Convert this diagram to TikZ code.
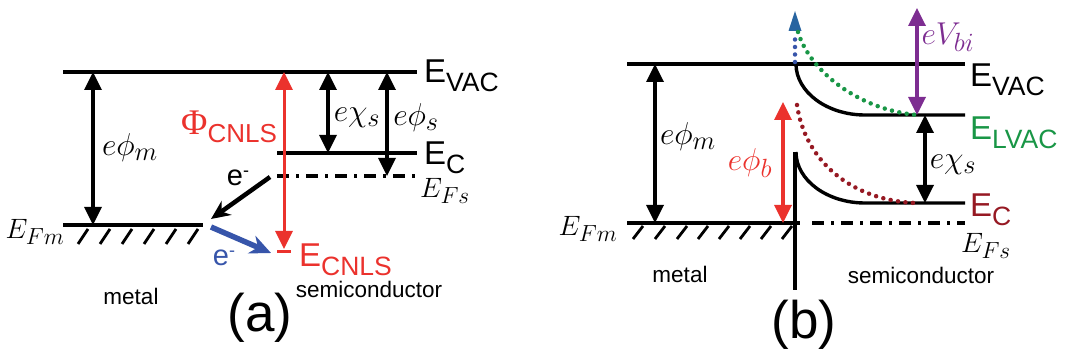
\documentclass[tikz,border=0pt]{standalone}
\usepackage{fontspec}
\setmainfont{Liberation Sans}
\newfontfamily\serifPhi{Liberation Serif}
\usetikzlibrary{arrows.meta}
\definecolor{myred}{RGB}{235,50,45}
\definecolor{myblue}{RGB}{55,85,170}
\definecolor{mygreen}{RGB}{25,150,70}
\definecolor{mydarkred}{RGB}{150,25,35}
\definecolor{mypurple}{RGB}{125,45,145}
\definecolor{myteal}{RGB}{40,100,160}
\newcommand\subtx[1]{{\fontsize{26.5}{26.5}\selectfont\raisebox{-9pt}{#1}}}
\newcommand\elminus{{\fontsize{18}{18}\selectfont\raisebox{9pt}{-}}}
\tikzset{
  lvl/.style={line width=3.4pt},
  dimarr/.style={line width=3.4pt,{Triangle[length=18pt,width=17pt]}-{Triangle[length=18pt,width=17pt]}},
  biglbl/.style={inner sep=0pt,anchor=base west,font=\fontsize{33}{33}\selectfont},
  mathlbl/.style={inner sep=0pt,font=\fontsize{24.88}{25}\selectfont,scale=1.125},
  mathbig/.style={inner sep=0pt,font=\fontsize{24.88}{25}\selectfont,scale=1.27},
  txt/.style={inner sep=0pt,font=\fontsize{22.5}{22.5}\selectfont},
  caplbl/.style={inner sep=0pt,font=\fontsize{53}{53}\selectfont},
  elbl/.style={inner sep=0pt,font=\fontsize{29}{29}\selectfont},
  hatchln/.style={line width=2.8pt},
  dashdot/.style={line width=3.4pt,dash pattern=on 12pt off 7pt on 3pt off 7pt},
  dotln/.style={line width=4.5pt,dash pattern=on 0pt off 7.5pt,line cap=round}
}
\begin{document}
\begin{tikzpicture}[x=1pt,y=-1pt]
\useasboundingbox (0,0) rectangle (1066,358);
% ---------------- panel (a) ----------------
\coordinate (aVacL) at (63,72);   \coordinate (aVacR) at (417,72);
\coordinate (aFmL) at (63,225);   \coordinate (aFmR) at (203,225);
\coordinate (aCL) at (277,153);   \coordinate (aCR) at (417,153);
\coordinate (aFsL) at (277,176);  \coordinate (aFsR) at (417,176);
\draw[lvl] (aVacL) -- (aVacR);
\draw[lvl] (aFmL) -- (aFmR);
\draw[lvl] (aCL) -- (aCR);
\draw[dashdot] (aFsL) -- (aFsR);
\foreach \x in {78,100,122,144,166,188} \draw[hatchln] (\x,244) -- (\x+10,229);
\coordinate (amT) at (93,72); \coordinate (amB) at (93,225);
\draw[dimarr] (amT) -- (amB);
\coordinate (arT) at (284,72); \coordinate (arB) at (284,249);
\draw[dimarr,myred,line width=3pt] (arT) -- (arB);
\coordinate (arBarL) at (277,252); \coordinate (arBarR) at (291,252);
\draw[line width=3pt,myred] (arBarL) -- (arBarR);
\coordinate (axT) at (328,72); \coordinate (axB) at (328,153);
\draw[dimarr] (axT) -- (axB);
\coordinate (asT) at (387,72); \coordinate (asB) at (387,176);
\draw[dimarr] (asT) -- (asB);
\coordinate (e1s) at (270,177); \coordinate (e1e) at (211,219);
\draw[line width=4.5pt,-{Stealth[length=19pt,width=17pt]}] (e1s) -- (e1e);
\coordinate (e2s) at (211,227); \coordinate (e2e) at (271,253);
\draw[myblue,line width=5.5pt,-{Stealth[length=21pt,width=19pt]}] (e2s) -- (e2e);
% labels (a)
\node[biglbl] (aEvac) at (424,83) {E\subtx{VAC}};
\node[biglbl] (aEc) at (424,165) {E\subtx{C}};
\node[mathlbl] (aEfs) at (445,191) {$E_{Fs}$};
\node[mathlbl] (aEfm) at (35,232) {$E_{Fm}$};
\node[mathbig] (aPhim) at (130,148) {$e\phi_m$};
\node[mathbig] (aChi) at (357,118) {$e\chi_s$};
\node[mathbig] (aPhis) at (416,118) {$e\phi_s$};
\node[biglbl,myred] (aPhiC) at (181,135) {{\serifPhi\fontsize{36}{36}\selectfont Φ}{\fontsize{26}{26}\selectfont\raisebox{-8pt}{CNLS}}};
\node[biglbl,myred] (aEcnls) at (299,267) {E\subtx{CNLS}};
\node[elbl] (ae1) at (238,178) {e\elminus};
\node[elbl,myblue] (ae2) at (224,258) {e\elminus};
\node[txt] (ametal) at (131,296) {metal};
\node[txt] (asemi) at (369,289) {semiconductor};
\node[caplbl] (acap) at (260,318) {(a)};
% ---------------- panel (b) ----------------
\coordinate (bVacL) at (627,64);  \coordinate (bVacR) at (965,64);
\coordinate (bFmL) at (627,223);  \coordinate (bFmR) at (800,223);
\coordinate (bJT) at (795,152);   \coordinate (bJB) at (795,290);
\coordinate (bFsL) at (812,223);  \coordinate (bFsR) at (965,223);
\draw[lvl] (bVacL) -- (bVacR);
\draw[lvl] (bFmL) -- (bFmR);
\draw[lvl] (bJT) -- (bJB);
\draw[dashdot] (bFsL) -- (bFsR);
\foreach \x in {633,655,677,698,719,740,761,782} \draw[hatchln] (\x,239) -- (\x+10,226);
\coordinate (bU0) at (796,64); \coordinate (bU1) at (865,115); \coordinate (bU2) at (965,115);
\draw[lvl] (bU0) .. controls (796,92) and (827,115) .. (bU1) -- (bU2);
\coordinate (bL0) at (796,152); \coordinate (bL1) at (865,203); \coordinate (bL2) at (965,203);
\draw[lvl] (bL0) .. controls (796,180) and (827,203) .. (bL1) -- (bL2);
\coordinate (bmT) at (655,64); \coordinate (bmB) at (655,223);
\draw[dimarr] (bmT) -- (bmB);
\coordinate (bbT) at (783,102); \coordinate (bbB) at (783,223);
\draw[dimarr,myred] (bbT) -- (bbB);
\coordinate (bxT) at (925,115); \coordinate (bxB) at (925,203);
\draw[dimarr] (bxT) -- (bxB);
\coordinate (bvT) at (917,8); \coordinate (bvB) at (917,115);
\draw[dimarr,mypurple] (bvT) -- (bvB);
% dotted
\coordinate (bbl0) at (795,62); \coordinate (bbl1) at (795,33);
\draw[dotln,myblue] (bbl0) -- (bbl1);
\coordinate (btip) at (795,11);
\fill[myteal] (btip) -- (788.5,31) -- (801.5,31) -- cycle;
\coordinate (bg0) at (798,32); \coordinate (bg1) at (917,115);
\draw[dotln,mygreen] (bg0) .. controls (810,72) and (860,110) .. (bg1);
\coordinate (br0) at (797,105); \coordinate (br1) at (915,203);
\draw[dotln,mydarkred] (br0) .. controls (805,160) and (850,200) .. (br1);
% labels (b)
\node[biglbl] (bEvac) at (970,87) {E\subtx{VAC}};
\node[biglbl,mygreen] (bElvac) at (970,140) {E\subtx{LVAC}};
\node[biglbl,mydarkred] (bEc) at (970,217) {E\subtx{C}};
\node[mathlbl] (bEfs) at (986,246) {$E_{Fs}$};
\node[mathlbl] (bEfm) at (588,229) {$E_{Fm}$};
\node[mathbig] (bChi) at (953,165) {$e\chi_s$};
\node[mathbig,mypurple] (bVbi) at (948,37) {$eV_{bi}$};
\node[mathbig] (bPhim) at (688,137) {$e\phi_m$};
\node[mathbig,myred] (bPhib) at (750,163) {$e\phi_b$};
\node[txt] (bmetal) at (680,274) {metal};
\node[txt] (bsemi) at (921,275) {semiconductor};
\node[caplbl] (bcap) at (804,325) {(b)};
\end{tikzpicture}
\end{document}
